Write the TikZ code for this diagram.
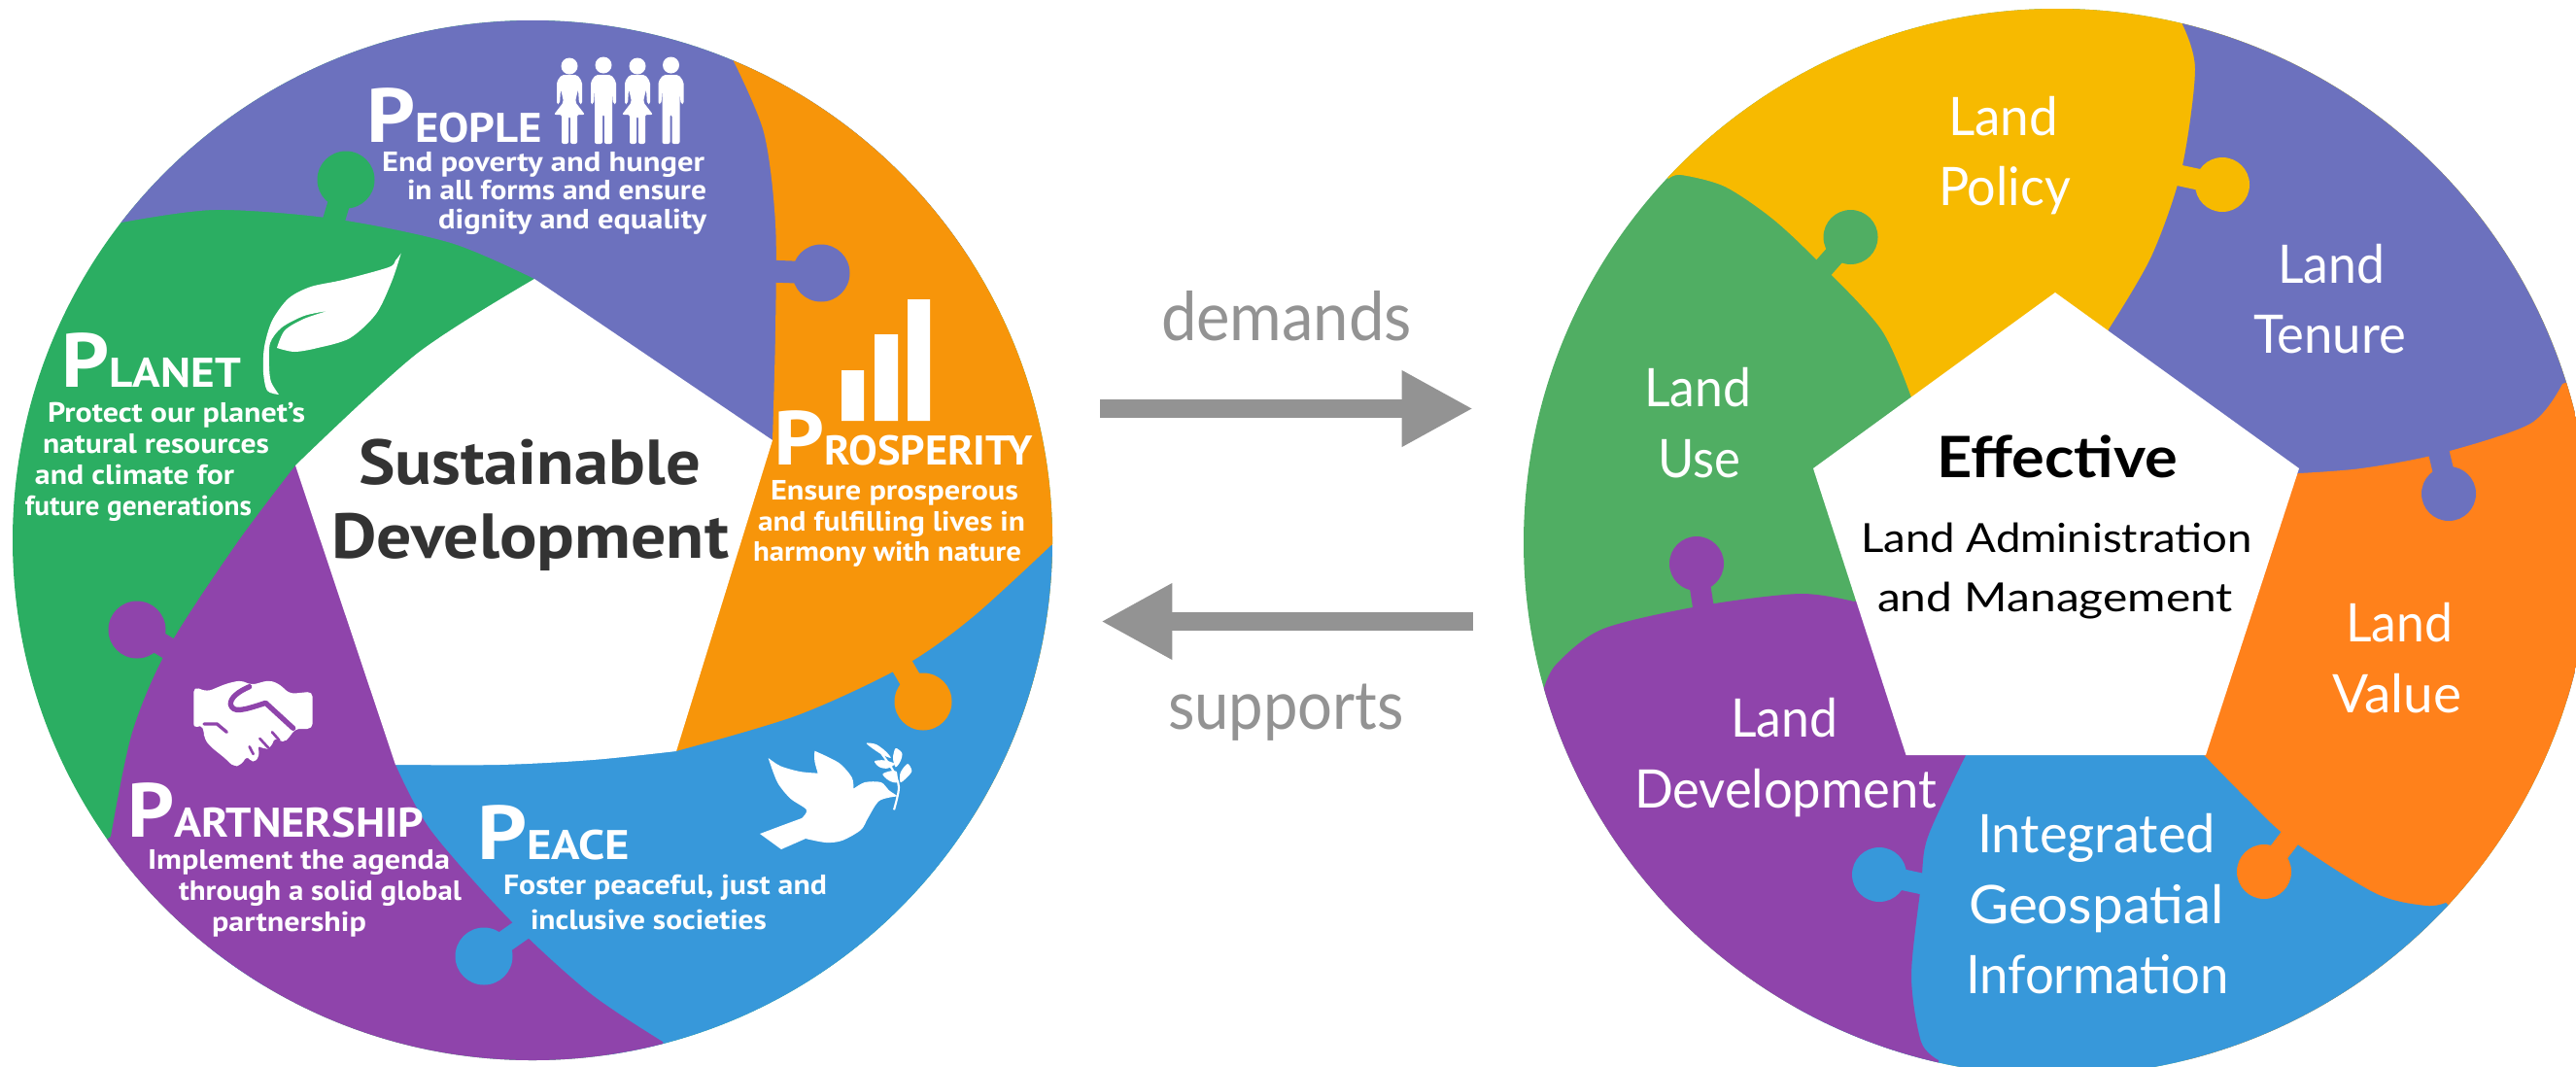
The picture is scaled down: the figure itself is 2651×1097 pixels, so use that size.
\documentclass[tikz,border=0pt]{standalone}
\usepackage{fontspec}
\usepackage{graphicx}
\usetikzlibrary{arrows.meta}
\newfontfamily\leftf{PT Sans}
\newfontfamily\rightf{Lato}
\definecolor{cppl}{HTML}{6C71BE}
\definecolor{corg}{HTML}{F7950A}
\definecolor{cgrn}{HTML}{2BAE62}
\definecolor{cpur}{HTML}{8F44AB}
\definecolor{cblu}{HTML}{3798DA}
\definecolor{cyel}{HTML}{F7BA00}
\definecolor{corr}{HTML}{FF811B}
\definecolor{cgr2}{HTML}{50AE63}
\definecolor{cgry}{HTML}{939393}
\tikzset{
  lbl/.style={anchor=base west,inner sep=0pt,outer sep=0pt},
  lbody/.style={lbl,text=white,font=\leftf\bfseries\fontsize{21.5}{24}\selectfont},
  lbig/.style={lbl,text=white,font=\leftf\bfseries\fontsize{59}{60}\selectfont},
  lsmall/.style={lbl,text=white,font=\leftf\bfseries\fontsize{32}{34}\selectfont},
  ltitle/.style={lbl,text=black!80,font=\leftf\bfseries\fontsize{49}{52}\selectfont},
  rbody/.style={lbl,text=white,font=\rightf\fontsize{41}{44}\selectfont},
  rsub/.style={lbl,text=black,font=\rightf\fontsize{31}{34}\selectfont},
  rhead/.style={lbl,text=black,font=\rightf\bfseries\fontsize{44}{46}\selectfont},
  gword/.style={lbl,text=cgry,font=\rightf\fontsize{52}{54}\selectfont},
  flow/.style={cgry,line width=14.25pt,-{Triangle[length=55pt,width=55pt]}},
}
\newcommand{\lb}[6]{\node[#5] (#1) at (#2,#3) {\resizebox{\dimexpr #4pt*3/4\relax}{\height}{#6}};}
\newcommand{\tabneck}[5]{\fill[#1] (#2,#3) circle (#5);\draw[#1,line width=#5*0.58pt] (#2,#3) -- #4;}
\newcommand{\womanfig}[1]{\begin{scope}[shift={(#1,0)}]
\fill[white] (0,68) circle (8.5);
\fill[white,rounded corners=1.5pt] (-8,77)--(-13,84)--(-13,107)--(-10,107)--(-9,92)--(-7,100)--(-6,105)--(-16,118)--(-8,118)--(-8,148)--(-1,148)--(-1,120)--(1,120)--(1,148)--(8,148)--(8,118)--(16,118)--(6,105)--(7,100)--(9,92)--(10,107)--(13,107)--(13,84)--(8,77)--cycle;
\end{scope}}
\newcommand{\manfig}[1]{\begin{scope}[shift={(#1,0)}]
\fill[white] (0,67) circle (8.5);
\fill[white,rounded corners=1.5pt] (-8,77)--(-13,84)--(-13,107)--(-10,107)--(-9,92)--(-9,148)--(-1,148)--(-1,118)--(1,118)--(1,148)--(9,148)--(9,92)--(10,107)--(13,107)--(13,84)--(8,77)--cycle;
\end{scope}}
\begin{document}
\begin{tikzpicture}[x=0.75pt,y=-0.75pt]
\useasboundingbox (0,0) rectangle (2651,1097);
\fill[white] (0,0) rectangle (2651,1097);
% ---------- LEFT WHEEL
\begin{scope}
\clip (548,556) circle (535);
\fill[cgrn] (0,0) rectangle (1200,1200);
\fill[cppl] (548,500) -- (550,287) -- plot[smooth] coordinates {(550,287)(464,250)(343,225)(221,216)(125,229)} -- (60,190) -- (-100,-200) -- (1000,-200) -- (1000,500) -- cycle;
\fill[corg] (548,500) -- (795,453) -- plot[smooth] coordinates {(795,453)(798,340)(798,230)(786,136)(754,61)} -- (740,-100) -- (1200,-100) -- (1200,800) -- (700,900) -- cycle;
\fill[cblu] (548,500) -- (696,773) -- plot[smooth] coordinates {(696,773)(821,736)(929,686)(1000,636)(1082,561)} -- (1200,500) -- (1200,1200) -- (200,1000) -- cycle;
\fill[cpur] (548,500) -- (407,787) -- plot[smooth] coordinates {(407,787)(443,854)(525,947)(607,1022)(682,1072)} -- (720,1200) -- (-100,1200) -- (-100,1000) -- (114,861) -- plot[smooth] coordinates {(114,861)(136,754)(173,667)(243,560)(304,479)} -- cycle;
\tabneck{cgrn}{356}{185}{(341,235)}{29.5}
\tabneck{cppl}{845}{281}{(790,279)}{29.5}
\tabneck{corg}{950}{722}{(923,676)}{29.5}
\tabneck{cblu}{498}{984}{(545,951)}{29.5}
\tabneck{cpur}{141}{648}{(183,673)}{29.5}
\fill[white] (550,287) -- (795,453) -- (696,773) -- plot[smooth] coordinates {(696,773)(610,782)(514,787)(407,787)} -- (304,479) -- plot[smooth] coordinates {(304,479)(429,364)(550,287)} -- cycle;
\end{scope}
% icons left
\womanfig{586}\manfig{621}\womanfig{656}\manfig{690.5}
\fill[white] (412.7,260.7) -- plot[smooth] coordinates {(412.7,260.7)(403,290)(387,323)(360,348)(327,358)(303,362)(285,358)} -- plot[smooth] coordinates {(285,358)(293,340)(313,328)(337,320)} -- plot[smooth] coordinates {(337,320)(313,325)(290,337)(278,353)(277,377)(279,393)(287,406)} -- plot[smooth] coordinates {(287,406)(275,402)(271,383)(272,357)(280,330)(297,307)(320,295)(353,288)(400,275)(407,268)(412.7,260.7)} -- cycle;
\fill[white] (866,381) rectangle (889,433) (900,344) rectangle (924,433) (934,308) rectangle (957,433);
\begin{scope}[shift={(190,690)},x=0.25pt,y=-0.25pt]
\fill[white,rounded corners=4pt] (28,50)--(70,65)--(130,40)--(175,30)--(205,45)--(260,30)--(290,40)--(325,72)--(395,65)--(395,180)--(340,180)--(325,205)--(303,225)--(278,205)--(268,237)--(245,245)--(225,228)--(232,265)--(210,288)--(193,262)--(175,292)--(150,297)--(130,275)--(105,255)--(80,235)--(60,210)--(60,185)--(50,165)--(28,180)--cycle;
\draw[cpur,line width=4pt,line cap=round,line join=round] (200,50) .. controls (165,65) and (140,85) .. (142,105) .. controls (150,130) and (175,125) .. (250,100) -- (335,178);
\draw[cpur,line width=2.5pt,line cap=round] (60,165) -- (100,165) -- (130,190);
\draw[cpur,line width=2pt,line cap=round] (270,190) -- (292,215) (232,210) -- (258,238) (200,235) -- (212,258);
\end{scope}
\begin{scope}[shift={(770,750)},x=0.25pt,y=-0.25pt]
\fill[white] (62,90) -- plot[smooth] coordinates {(62,90)(100,115)(160,132)(215,137)} -- plot[smooth] coordinates {(215,137)(205,100)(205,68)} -- plot[smooth] coordinates {(205,68)(280,105)(320,150)(325,185)} -- plot[smooth] coordinates {(325,185)(360,165)(410,165)(435,190)(462,208)} -- plot[smooth] coordinates {(462,208)(405,222)(370,275)(348,312)(290,345)(240,351)(177,339)} -- (102,372) -- (36,324) -- plot[smooth] coordinates {(36,324)(100,300)(165,276)} -- plot[smooth] coordinates {(165,276)(180,250)(130,215)(90,165)(62,90)} -- cycle;
\draw[white,line width=1.6pt] plot[smooth] coordinates {(450,250)(465,180)(445,125)(400,60)};
\fill[white] plot[smooth cycle] coordinates {(365,45)(395,48)(425,70)(440,90)(405,75)};
\fill[white] plot[smooth cycle] coordinates {(455,60)(475,75)(470,100)(455,118)(447,90)};
\fill[white] plot[smooth cycle] coordinates {(390,100)(420,97)(452,108)(430,122)(405,118)};
\fill[white] plot[smooth cycle] coordinates {(492,108)(505,130)(490,150)(470,165)(470,135)};
\fill[white] plot[smooth cycle] coordinates {(415,140)(440,130)(458,132)(460,165)(435,160)};
\end{scope}
% left text
\lb{ttlA}{369}{498}{352}{ltitle}{Sustainable}
\lb{ttlB}{341}{574}{409}{ltitle}{Development}
\lb{pplP}{377}{146}{50}{lbig}{P}
\lb{pplS}{427}{146}{131}{lsmall}{EOPLE}
\lb{ppl1}{393}{176}{332}{lbody}{End poverty and hunger}
\lb{ppl2}{419}{205}{308}{lbody}{in all forms and ensure}
\lb{ppl3}{451}{235}{276}{lbody}{dignity and equality}
\lb{plnP}{63}{398}{49}{lbig}{P}
\lb{plnS}{112}{398}{136}{lsmall}{LANET}
\lb{pln1}{49}{434}{265}{lbody}{Protect our planet’s}
\lb{pln2}{44}{466}{233}{lbody}{natural resources}
\lb{pln3}{36}{498}{205}{lbody}{and climate for}
\lb{pln4}{26}{530}{233}{lbody}{future generations}
\lb{proP}{796}{478}{52}{lbig}{P}
\lb{proS}{848}{478}{215}{lsmall}{ROSPERITY}
\lb{pro1}{793}{514}{255}{lbody}{Ensure prosperous}
\lb{pro2}{780}{546}{275}{lbody}{and fulfilling lives in}
\lb{pro3}{775}{577.5}{276}{lbody}{harmony with nature}
\lb{parP}{131}{861}{48}{lbig}{P}
\lb{parS}{179}{861}{257}{lsmall}{ARTNERSHIP}
\lb{par1}{152}{894}{311}{lbody}{Implement the agenda}
\lb{par2}{184}{926}{291}{lbody}{through a solid global}
\lb{par3}{218}{958}{159}{lbody}{partnership}
\lb{peaP}{491}{884}{51}{lbig}{P}
\lb{peaS}{542}{884}{106}{lsmall}{EACE}
\lb{pea1}{518}{920}{333}{lbody}{Foster peaceful, just and}
\lb{pea2}{546}{956}{243}{lbody}{inclusive societies}
% ---------- CENTRE
\coordinate (dA) at (1132,420.5);
\coordinate (dB) at (1516,420.5);
\coordinate (sA) at (1516,639.5);
\coordinate (sB) at (1133,639.5);
\draw[flow] (dA) -- (dB);
\draw[flow] (sA) -- (sB);
\lb{wdem}{1195}{350}{258}{gword}{demands}
\lb{wsup}{1202}{750}{243}{gword}{supports}
% ---------- RIGHT WHEEL
\begin{scope}
\clip (1400,0) rectangle (2651,1097);
\clip (2117,558) circle (549);
\fill[cgr2] (1400,0) rectangle (2800,1200);
\fill[cyel] (2117,560) -- (1967,409) -- plot[smooth] coordinates {(1967,409)(1936,339)(1870,268)(1824,225)(1775,192)(1730,180)(1717,184)} -- (1650,100) -- (1650,-100) -- (2400,-100) -- (2800,560) -- cycle;
\fill[cppl] (2117,560) -- (2170,339) -- plot[smooth] coordinates {(2170,339)(2214,264)(2245,175)(2259,71)(2245,23)} -- (2225,-100) -- (2900,-100) -- (2900,800) -- cycle;
\fill[corr] (2117,560) -- (2366,487) -- plot[smooth] coordinates {(2366,487)(2430,482)(2510,467)(2604,436)(2637,395)} -- (2900,300) -- (2900,1300) -- (2300,1300) -- cycle;
\fill[cblu] (2117,560) -- (2268,777) -- plot[smooth] coordinates {(2268,777)(2312,822)(2356,863)(2444,919)(2496,932)(2517,929)} -- (2700,1100) -- (2700,1300) -- (1700,1300) -- cycle;
\fill[cpur] (2117,560) -- (2023,777) -- plot[smooth] coordinates {(2023,777)(1984,861)(1977,910)(1967,1004)(1977,1072)(1995,1091)} -- (1990,1300) -- (1400,1300) -- (1400,800) -- (1589,708) -- plot[smooth] coordinates {(1589,708)(1602,683)(1650,647)(1753,623)(1852,611)(1908,619)} -- cycle;
\tabneck{cgr2}{1904.5}{244}{(1870,283)}{28}
\tabneck{cyel}{2287}{190}{(2236,179)}{28}
\tabneck{cppl}{2520}{508}{(2508,458)}{28}
\tabneck{corr}{2330}{897}{(2362,855)}{28}
\tabneck{cblu}{1934}{900}{(1985,911)}{28}
\tabneck{cpur}{1746}{580}{(1754,632)}{28}
\fill[white] (2115,301) -- (2366,482) -- (2270,777) -- (1961.5,777) -- (1866,482) -- cycle;
\end{scope}
\lb{rpA}{2005}{139}{113}{rbody}{Land}
\lb{rpB}{1995}{211}{136}{rbody}{Policy}
\lb{rtA}{2344}{291}{110}{rbody}{Land}
\lb{rtB}{2319}{363}{157}{rbody}{Tenure}
\lb{ruA}{1692}{418.6}{110}{rbody}{Land}
\lb{ruB}{1706}{491}{85}{rbody}{Use}
\lb{rvA}{2414}{660}{110}{rbody}{Land}
\lb{rvB}{2400}{733}{133}{rbody}{Value}
\lb{rdA}{1781}{758.6}{110}{rbody}{Land}
\lb{rdB}{1682}{831}{311}{rbody}{Development}
\lb{riA}{2035}{877.5}{245}{rbody}{Integrated}
\lb{riB}{2026}{950}{263}{rbody}{Geospatial}
\lb{riC}{2023}{1022}{271}{rbody}{Information}
\lb{rcA}{1993}{491}{248}{rhead}{Effective}
\lb{rcB}{1915}{568.6}{403}{rsub}{Land Administration}
\lb{rcC}{1932}{629}{366}{rsub}{and Management}
\end{tikzpicture}
\end{document}
